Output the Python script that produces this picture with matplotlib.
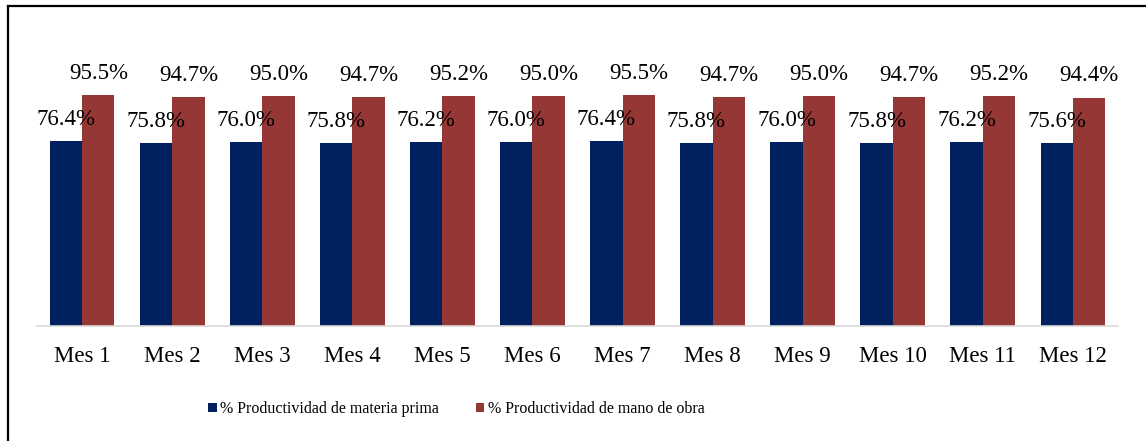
import numpy as np
import matplotlib
matplotlib.use("Agg")
import matplotlib.pyplot as plt
from matplotlib.lines import Line2D

meses = ["Mes 1", "Mes 2", "Mes 3", "Mes 4", "Mes 5", "Mes 6",
         "Mes 7", "Mes 8", "Mes 9", "Mes 10", "Mes 11", "Mes 12"]
materia_prima = [76.4, 75.8, 76.0, 75.8, 76.2, 76.0,
                 76.4, 75.8, 76.0, 75.8, 76.2, 75.6]
mano_obra = [95.5, 94.7, 95.0, 94.7, 95.2, 95.0,
             95.5, 94.7, 95.0, 94.7, 95.2, 94.4]
series = ["% Productividad de materia prima", "% Productividad de mano de obra"]

plt.rcParams["font.family"] = ["Liberation Serif", "DejaVu Serif"]
BLUE, RED = "#002060", "#953735"

fig = plt.figure(figsize=(11.46, 4.41), dpi=100)
ax = fig.add_axes([0.0323, 0.2608, 0.9433, 0.5488])

x = np.arange(len(meses))
w = 0.36
b1 = ax.bar(x - w / 2, materia_prima, w, color=BLUE, label=series[0])
b2 = ax.bar(x + w / 2, mano_obra, w, color=RED, label=series[1])

for bars, vals in [(b1, materia_prima), (b2, mano_obra)]:
    for r, v in zip(bars, vals):
        ax.annotate(f"{v:.1f}%", (r.get_x() + r.get_width() / 2, r.get_height()),
                    xytext=(0, 15.5), textcoords="offset points",
                    ha="center", va="center", fontsize=16.5, color="black")

ax.set_xlim(-0.5, len(meses) - 0.5)
ax.set_ylim(0, 100)
ax.set_xticks(x)
ax.set_xticklabels(meses, fontsize=16.5)
ax.tick_params(axis="x", length=0, pad=14.5)
ax.set_yticks([])
for s in ["top", "right", "left"]:
    ax.spines[s].set_visible(False)
ax.spines["bottom"].set_color("#d9d9d9")
ax.spines["bottom"].set_linewidth(1.2)

fig.legend(loc="center", bbox_to_anchor=(0.398, 0.072), ncol=2, frameon=False,
           fontsize=11.5, handlelength=0.55, handleheight=0.55, handletextpad=0.2,
           columnspacing=2.3)

# frame lines on top and left edge
fig.add_artist(Line2D([7.5 / 1146, 1], [1 - 5.5 / 441, 1 - 5.5 / 441],
                      color="black", lw=1.6, transform=fig.transFigure))
fig.add_artist(Line2D([7.5 / 1146, 7.5 / 1146], [0, 1 - 5.5 / 441],
                      color="black", lw=1.6, transform=fig.transFigure))

fig.savefig("out.png", dpi=100)
